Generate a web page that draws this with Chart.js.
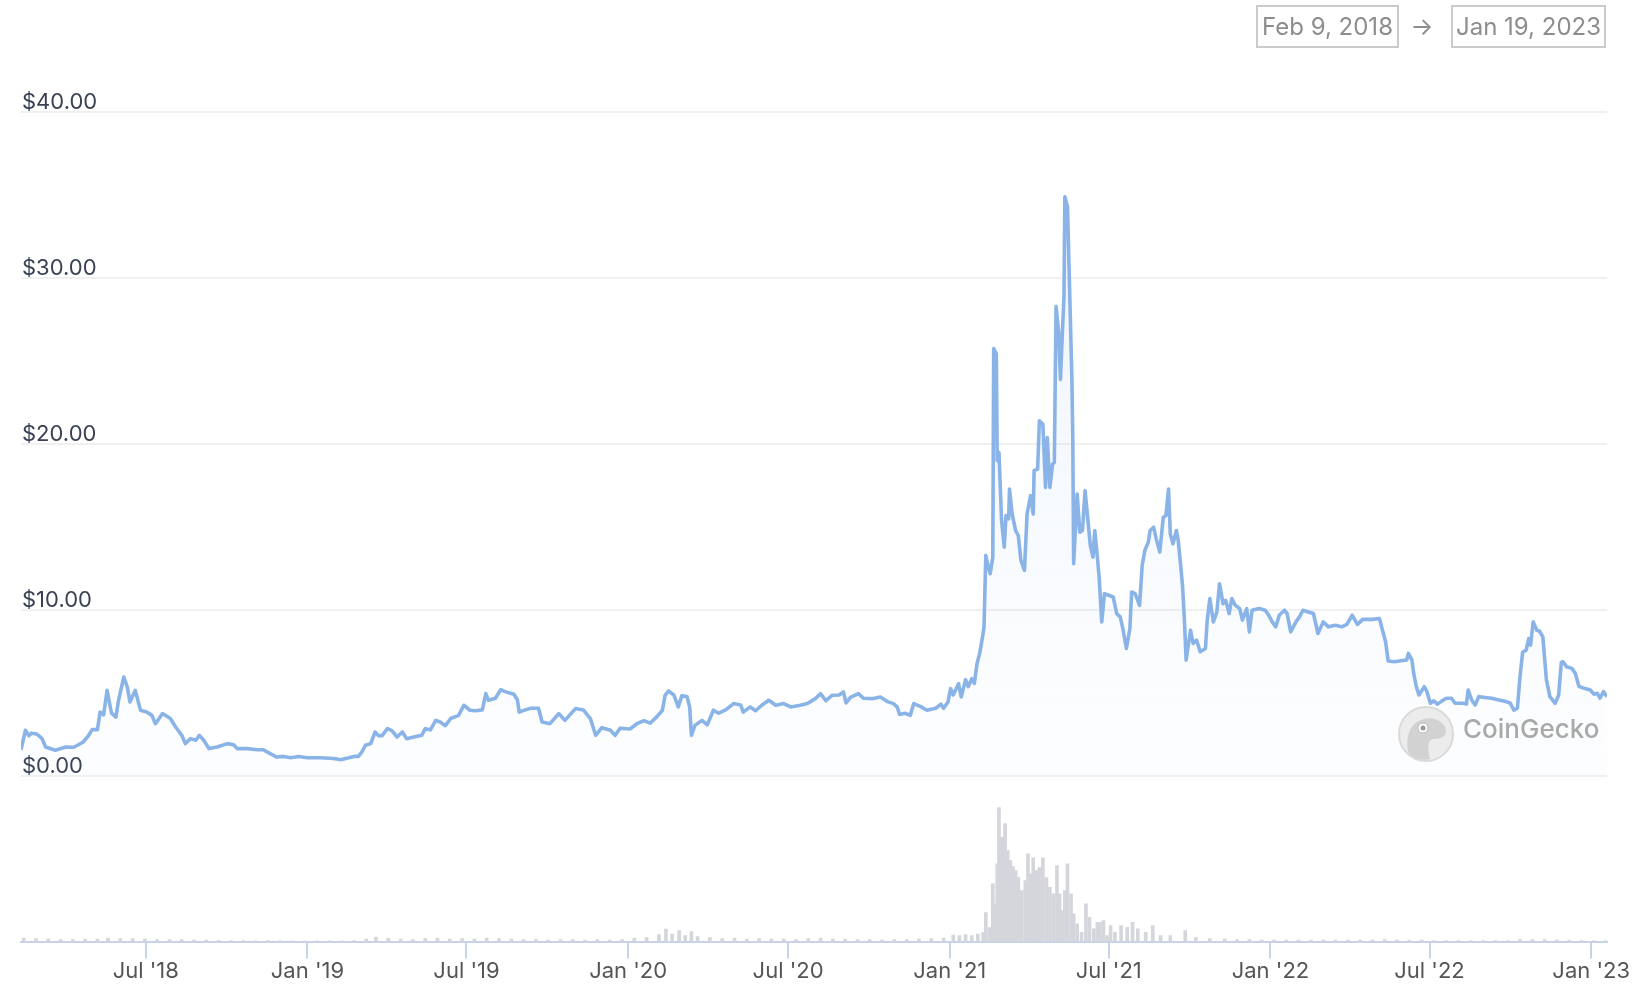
<!DOCTYPE html>
<html>
<head>
<meta charset="utf-8">
<script src="https://cdn.jsdelivr.net/npm/chart.js@4.4.0/dist/chart.umd.min.js"></script>
<style>
  html, body { margin: 0; padding: 0; background: #fff; }
  #wrap { position: relative; width: 1634px; height: 987px; overflow: hidden; }
  #chart { position: absolute; left: 0; top: 0; }
  .range {
    position: absolute; top: 5px; height: 43px; box-sizing: border-box;
    border: 2px solid #cbcbcb; color: #8d8d8d;
    font: 24px Inter, sans-serif; line-height: 39px; text-align: center;
  }
  .arrow { position: absolute; left: 1405px; top: 5px; width: 34px; height: 43px;
    display: flex; align-items: center; justify-content: center;
    color: #8d8d8d; font: 24px Inter, sans-serif; }
  .brand { position: absolute; left: 1463px; top: 713px; height: 40px; line-height: 40px;
    color: #a9a9a9; font: 500 26px Inter, sans-serif; }
  .logo { position: absolute; left: 1396px; top: 704px; }
</style>
</head>
<body>
<div id="wrap">
  <canvas id="chart" width="1634" height="987"></canvas>
  <div class="range" style="left:1256px; width:143px;">Feb 9, 2018</div>
  <div class="arrow">→</div>
  <div class="range" style="left:1451px; width:155px;">Jan 19, 2023</div>
  <svg class="logo" width="60" height="60" viewBox="0 0 60 60">
    <circle cx="30" cy="30" r="27" fill="#ececec" stroke="#dadada" stroke-width="2"/>
    <path d="M13 50 C9 36 12 19 28 15 C40 12 50 20 50 27 C50 33 44 35 37 35 C32 36 31 43 34 55 C26 57 18 55 13 50 Z" fill="#d2d2d2"/>
    <circle cx="27" cy="24" r="5" fill="#fff" stroke="#bdbdbd" stroke-width="1"/>
    <circle cx="27" cy="24" r="2.5" fill="#9a9a9a"/>
  </svg>
  <div class="brand">CoinGecko</div>
</div>
<script>
const priceDates = [
  '2018-02-09','2018-02-14','2018-02-18','2018-02-21','2018-02-27','2018-03-05','2018-03-09','2018-03-20',
  '2018-04-01','2018-04-10','2018-04-21','2018-04-27','2018-05-01','2018-05-07','2018-05-10','2018-05-14',
  '2018-05-18','2018-05-23','2018-05-28','2018-05-31','2018-06-06','2018-06-10','2018-06-13','2018-06-19',
  '2018-06-23','2018-06-25','2018-07-02','2018-07-08','2018-07-12','2018-07-20','2018-07-29','2018-08-04',
  '2018-08-11','2018-08-15','2018-08-21','2018-08-27','2018-08-31','2018-09-05','2018-09-11','2018-09-20',
  '2018-10-02','2018-10-09','2018-10-13','2018-10-24','2018-11-05','2018-11-12','2018-11-16','2018-11-27',
  '2018-12-05','2018-12-13','2018-12-22','2019-01-01','2019-01-16','2019-01-31','2019-02-08','2019-02-16',
  '2019-02-23','2019-02-28','2019-03-04','2019-03-08','2019-03-14','2019-03-19','2019-03-23','2019-03-27',
  '2019-04-02','2019-04-07','2019-04-13','2019-04-19','2019-04-24','2019-05-02','2019-05-11','2019-05-15',
  '2019-05-21','2019-05-27','2019-06-01','2019-06-07','2019-06-13','2019-06-22','2019-06-28','2019-07-05',
  '2019-07-11','2019-07-19','2019-07-23','2019-07-26','2019-08-03','2019-08-09','2019-08-14','2019-08-24',
  '2019-08-28','2019-08-30','2019-09-06','2019-09-12','2019-09-21','2019-09-25','2019-10-04','2019-10-14',
  '2019-10-21','2019-11-02','2019-11-11','2019-11-19','2019-11-25','2019-12-02','2019-12-12','2019-12-17',
  '2019-12-23','2020-01-03','2020-01-11','2020-01-19','2020-01-26','2020-02-03','2020-02-09','2020-02-12',
  '2020-02-16','2020-02-22','2020-02-27','2020-03-02','2020-03-08','2020-03-11','2020-03-13','2020-03-17',
  '2020-03-25','2020-03-31','2020-04-07','2020-04-13','2020-04-21','2020-04-30','2020-05-08','2020-05-11',
  '2020-05-19','2020-05-25','2020-06-01','2020-06-09','2020-06-17','2020-06-26','2020-07-04','2020-07-15',
  '2020-07-23','2020-08-01','2020-08-07','2020-08-13','2020-08-20','2020-08-28','2020-09-02','2020-09-05',
  '2020-09-10','2020-09-19','2020-09-25','2020-10-06','2020-10-14','2020-10-22','2020-10-29','2020-11-02',
  '2020-11-05','2020-11-11','2020-11-17','2020-11-21','2020-11-29','2020-12-06','2020-12-16','2020-12-22',
  '2020-12-25','2020-12-30','2021-01-02','2021-01-05','2021-01-11','2021-01-14','2021-01-19','2021-01-22',
  '2021-01-26','2021-01-29','2021-02-01','2021-02-04','2021-02-07','2021-02-09','2021-02-11','2021-02-13',
  '2021-02-16','2021-02-19','2021-02-20','2021-02-23','2021-02-24','2021-02-26','2021-03-01','2021-03-04',
  '2021-03-06','2021-03-09','2021-03-10','2021-03-13','2021-03-17','2021-03-20','2021-03-23','2021-03-27',
  '2021-03-30','2021-04-03','2021-04-06','2021-04-07','2021-04-11','2021-04-13','2021-04-17','2021-04-20',
  '2021-04-22','2021-04-25','2021-04-28','2021-04-30','2021-05-02','2021-05-05','2021-05-07','2021-05-09',
  '2021-05-11','2021-05-12','2021-05-15','2021-05-18','2021-05-20','2021-05-21','2021-05-22','2021-05-26',
  '2021-05-29','2021-06-01','2021-06-04','2021-06-08','2021-06-10','2021-06-13','2021-06-15','2021-06-18',
  '2021-06-20','2021-06-23','2021-06-26','2021-07-01','2021-07-06','2021-07-10','2021-07-14','2021-07-17',
  '2021-07-21','2021-07-25','2021-07-27','2021-07-31','2021-08-05','2021-08-08','2021-08-11','2021-08-15',
  '2021-08-17','2021-08-21','2021-08-24','2021-08-28','2021-09-01','2021-09-04','2021-09-07','2021-09-09',
  '2021-09-12','2021-09-16','2021-09-18','2021-09-21','2021-09-23','2021-09-25','2021-09-27','2021-10-02',
  '2021-10-05','2021-10-09','2021-10-13','2021-10-19','2021-10-21','2021-10-24','2021-10-28','2021-11-01',
  '2021-11-04','2021-11-08','2021-11-11','2021-11-15','2021-11-18','2021-11-22','2021-11-27','2021-11-30',
  '2021-12-05','2021-12-08','2021-12-11','2021-12-19','2021-12-26','2021-12-30','2022-01-03','2022-01-07',
  '2022-01-11','2022-01-17','2022-01-20','2022-01-24','2022-01-30','2022-02-03','2022-02-07','2022-02-13',
  '2022-02-19','2022-02-24','2022-03-02','2022-03-08','2022-03-16','2022-03-23','2022-03-29','2022-04-04',
  '2022-04-10','2022-04-16','2022-04-27','2022-05-05','2022-05-08','2022-05-12','2022-05-15','2022-05-22',
  '2022-05-28','2022-06-05','2022-06-07','2022-06-11','2022-06-13','2022-06-16','2022-06-19','2022-06-25',
  '2022-06-28','2022-07-02','2022-07-06','2022-07-10','2022-07-14','2022-07-20','2022-07-26','2022-07-30',
  '2022-08-08','2022-08-12','2022-08-14','2022-08-18','2022-08-22','2022-08-26','2022-09-02','2022-09-10',
  '2022-09-18','2022-09-26','2022-10-01','2022-10-05','2022-10-09','2022-10-12','2022-10-15','2022-10-19',
  '2022-10-22','2022-10-24','2022-10-27','2022-10-31','2022-11-03','2022-11-07','2022-11-09','2022-11-11',
  '2022-11-15','2022-11-21','2022-11-25','2022-11-28','2022-11-30','2022-12-04','2022-12-10','2022-12-14',
  '2022-12-18','2022-12-24','2022-12-31','2023-01-04','2023-01-08','2023-01-11','2023-01-15','2023-01-19'
];
const priceValues = [
  1.6, 2.77, 2.45, 2.6, 2.55, 2.27, 1.77, 1.57,
  1.77, 1.75, 2.07, 2.47, 2.81, 2.81, 3.87, 3.7,
  5.18, 3.8, 3.57, 4.58, 5.98, 5.38, 4.48, 5.18,
  4.38, 3.98, 3.87, 3.67, 3.17, 3.78, 3.48, 2.97,
  2.47, 1.97, 2.27, 2.17, 2.47, 2.17, 1.67, 1.77,
  1.97, 1.9, 1.67, 1.67, 1.6, 1.6, 1.47, 1.16,
  1.2, 1.12, 1.2, 1.12, 1.12, 1.07, 1.0, 1.1,
  1.2, 1.2, 1.47, 1.87, 1.97, 2.67, 2.45, 2.45,
  2.87, 2.75, 2.37, 2.67, 2.27, 2.37, 2.47, 2.87,
  2.8, 3.37, 3.27, 3.05, 3.48, 3.67, 4.28, 3.98,
  3.95, 4.0, 4.98, 4.58, 4.7, 5.22, 5.1, 4.94,
  4.6, 3.87, 4.0, 4.1, 4.1, 3.27, 3.17, 3.78,
  3.37, 4.08, 4.0, 3.48, 2.47, 2.93, 2.77, 2.47,
  2.9, 2.85, 3.17, 3.35, 3.2, 3.61, 3.98, 4.88,
  5.14, 4.9, 4.18, 4.85, 4.8, 4.18, 2.47, 3.07,
  3.37, 3.1, 3.98, 3.8, 4.0, 4.38, 4.3, 3.87,
  4.18, 3.95, 4.28, 4.58, 4.28, 4.38, 4.18, 4.28,
  4.38, 4.68, 4.98, 4.55, 4.88, 4.9, 5.08, 4.42,
  4.75, 4.98, 4.7, 4.68, 4.78, 4.5, 4.38, 4.18,
  3.73, 3.8, 3.67, 4.38, 4.2, 3.98, 4.1, 4.34,
  4.1, 4.48, 5.28, 4.9, 5.58, 4.78, 5.82, 5.4,
  5.88, 5.6, 6.78, 7.4, 8.29, 9.0, 13.31, 12.8,
  12.2, 13.2, 25.76, 25.46, 19.0, 19.5, 15.4, 13.8,
  15.7, 15.5, 17.3, 15.8, 14.8, 14.5, 13.0, 12.4,
  15.8, 16.9, 15.8, 18.4, 18.5, 21.4, 21.2, 17.4,
  20.4, 17.4, 18.8, 18.9, 28.3, 26.7, 23.9, 26.5,
  28.9, 34.9, 34.3, 28.1, 23.9, 20.5, 12.8, 17.0,
  14.7, 14.8, 17.2, 15.0, 13.9, 13.2, 14.8, 13.2,
  12.0, 9.3, 11.0, 10.9, 10.8, 9.8, 9.6, 8.9,
  7.7, 8.9, 11.1, 11.0, 10.3, 12.7, 13.6, 14.1,
  14.8, 15.0, 14.3, 13.5, 15.6, 15.7, 17.3, 14.6,
  14.0, 14.8, 14.2, 12.6, 11.4, 9.5, 7.0, 8.8,
  8.0, 8.2, 7.5, 7.7, 9.4, 10.7, 9.3, 9.9,
  11.6, 10.4, 10.6, 9.8, 10.7, 10.3, 10.1, 9.4,
  10.1, 8.7, 10.0, 10.1, 10.0, 9.7, 9.3, 9.0,
  9.7, 10.0, 9.8, 8.7, 9.3, 9.6, 10.0, 9.9,
  9.8, 8.6, 9.3, 9.0, 9.1, 9.0, 9.15, 9.7,
  9.15, 9.45, 9.45, 9.5, 8.9, 8.1, 6.95, 6.9,
  6.95, 7.0, 7.4, 7.0, 6.2, 5.4, 4.9, 5.4,
  5.1, 4.4, 4.55, 4.35, 4.5, 4.7, 4.7, 4.4,
  4.4, 4.35, 5.2, 4.6, 4.3, 4.8, 4.75, 4.7,
  4.6, 4.5, 4.4, 3.98, 4.1, 6.0, 7.47, 7.6,
  8.3, 7.9, 9.3, 8.8, 8.75, 8.4, 7.1, 5.83,
  4.8, 4.4, 4.9, 6.86, 6.9, 6.6, 6.5, 6.2,
  5.42, 5.3, 5.2, 4.95, 5.0, 4.7, 5.1, 4.8
];

// volume in $M
const volumeDates = [
  '2018-02-12','2018-02-26','2018-03-12','2018-03-26','2018-04-09','2018-04-23','2018-05-07','2018-05-19',
  '2018-06-02','2018-06-16','2018-06-30','2018-07-14','2018-07-28','2018-08-11','2018-08-25','2018-09-08',
  '2018-09-22','2018-10-06','2018-10-20','2018-11-03','2018-11-17','2018-12-01','2018-12-15','2018-12-29',
  '2019-01-12','2019-01-26','2019-02-09','2019-02-23','2019-03-09','2019-03-20','2019-04-03','2019-04-17',
  '2019-05-01','2019-05-15','2019-05-29','2019-06-12','2019-06-26','2019-07-10','2019-07-24','2019-08-07',
  '2019-08-21','2019-09-04','2019-09-18','2019-10-02','2019-10-16','2019-10-30','2019-11-13','2019-11-27',
  '2019-12-11','2019-12-25','2020-01-08','2020-01-22','2020-02-05','2020-02-13','2020-02-20','2020-02-28',
  '2020-03-06','2020-03-13','2020-03-20','2020-04-03','2020-04-17','2020-05-01','2020-05-15','2020-05-29',
  '2020-06-12','2020-06-26','2020-07-10','2020-07-24','2020-08-07','2020-08-21','2020-09-04','2020-09-18',
  '2020-10-02','2020-10-16','2020-10-30','2020-11-13','2020-11-27','2020-12-11','2020-12-25','2021-01-05',
  '2021-01-12','2021-01-19','2021-01-26','2021-02-02','2021-02-08','2021-02-11','2021-02-15','2021-02-19',
  '2021-02-22','2021-02-24','2021-02-26','2021-03-01','2021-03-03','2021-03-05','2021-03-08','2021-03-11',
  '2021-03-14','2021-03-17','2021-03-20','2021-03-24','2021-03-28','2021-03-31','2021-04-03','2021-04-06',
  '2021-04-10','2021-04-13','2021-04-17','2021-04-21','2021-04-25','2021-04-29','2021-05-03','2021-05-06',
  '2021-05-09','2021-05-12','2021-05-15','2021-05-19','2021-05-22','2021-05-26','2021-05-31','2021-06-05',
  '2021-06-09','2021-06-14','2021-06-18','2021-06-21','2021-06-25','2021-06-29','2021-07-03','2021-07-08',
  '2021-07-15','2021-07-22','2021-07-28','2021-08-03','2021-08-12','2021-08-20','2021-08-29','2021-09-09',
  '2021-09-26','2021-10-08','2021-10-24','2021-11-10','2021-11-24','2021-12-08','2021-12-22','2022-01-05',
  '2022-01-19','2022-02-02','2022-02-16','2022-03-02','2022-03-16','2022-03-30','2022-04-13','2022-04-27',
  '2022-05-11','2022-05-25','2022-06-08','2022-06-22','2022-07-06','2022-07-20','2022-08-03','2022-08-17',
  '2022-08-31','2022-09-14','2022-09-28','2022-10-12','2022-10-26','2022-11-09','2022-11-23','2022-12-07',
  '2022-12-21','2023-01-04','2023-01-18'
];
const volumeValues = [
  14, 12, 10, 8, 8, 10, 10, 14,
  12, 12, 10, 8, 8, 8, 6, 6,
  5, 4, 4, 3, 4, 3, 3, 3,
  3, 3, 3, 4, 10, 18, 14, 10,
  8, 12, 14, 10, 12, 10, 14, 12,
  10, 8, 8, 6, 8, 8, 6, 8,
  6, 8, 14, 16, 28, 50, 30, 44,
  24, 40, 20, 16, 12, 14, 10, 12,
  10, 10, 8, 12, 14, 10, 10, 8,
  8, 6, 8, 8, 10, 12, 14, 26,
  24, 28, 24, 30, 36, 116, 56, 231,
  151, 311, 535, 416, 411, 471, 364, 324,
  300, 284, 257, 204, 244, 351, 271, 335,
  284, 296, 335, 256, 217, 191, 304, 191,
  124, 204, 311, 191, 111, 71, 37, 151,
  97, 51, 77, 77, 84, 24, 64, 37,
  64, 57, 77, 51, 37, 64, 24, 24,
  44, 16, 12, 10, 8, 8, 6, 6,
  6, 6, 6, 6, 6, 6, 6, 6,
  8, 6, 6, 6, 4, 4, 4, 4,
  4, 4, 4, 8, 8, 8, 6, 6,
  4, 4, 4
];

const tickDates = ['2018-07-01','2019-01-01','2019-07-01','2020-01-01','2020-07-01',
  '2021-01-01','2021-07-01','2022-01-01','2022-07-01','2023-01-01'];
const tickLabels = ["Jul '18","Jan '19","Jul '19","Jan '20","Jul '20",
  "Jan '21","Jul '21","Jan '22","Jul '22","Jan '23"];
const priceTicks = [0, 10, 20, 30, 40];

const START = Date.UTC(2018, 1, 9);
const dayOf = s => (Date.parse(s) - START) / 864e5;

const priceData = priceDates.map((d, i) => ({ x: dayOf(d), y: priceValues[i] }));
const volumeData = volumeDates.map((d, i) => ({ x: dayOf(d), y: volumeValues[i] }));

// small marks under the date axis, at the x scale's own ticks
const tickMarks = {
  id: 'tickMarks',
  afterDraw(chart) {
    const sc = chart.scales.x;
    const c = chart.ctx;
    c.save();
    c.strokeStyle = '#c8d3e9';
    c.lineWidth = 2;
    sc.ticks.forEach(t => {
      const px = Math.round(sc.getPixelForValue(t.value));
      c.beginPath();
      c.moveTo(px, sc.top);
      c.lineTo(px, sc.top + 17);
      c.stroke();
    });
    c.restore();
  }
};

const ctx = document.getElementById('chart');
const chart = new Chart(ctx, {
  data: {
    datasets: [
      {
        type: 'line',
        label: 'Price',
        data: priceData,
        yAxisID: 'y',
        borderColor: '#8ab4e8',
        borderWidth: 3.6,
        pointRadius: 0,
        tension: 0,
        borderJoinStyle: 'round',
        fill: 'origin',
        backgroundColor: (c) => {
          const ch = c.chart;
          if (!ch.chartArea) return 'rgba(138,180,232,0.06)';
          const top = ch.scales.y.getPixelForValue(35);
          const bot = ch.scales.y.getPixelForValue(0);
          const g = ch.ctx.createLinearGradient(0, top, 0, bot);
          g.addColorStop(0, 'rgba(138,180,232,0.13)');
          g.addColorStop(1, 'rgba(138,180,232,0.02)');
          return g;
        }
      },
      {
        type: 'bar',
        label: 'Volume',
        data: volumeData,
        yAxisID: 'yv',
        backgroundColor: '#d4d6db',
        barThickness: 3,
        grouped: false
      }
    ]
  },
  options: {
    responsive: false,
    animation: false,
    layout: { padding: { left: 19, right: 27, top: 112, bottom: 2 } },
    plugins: { legend: { display: false }, tooltip: { enabled: false } },
    scales: {
      x: {
        type: 'linear',
        min: 0,
        max: dayOf('2023-01-19'),
        offset: false,
        afterBuildTicks: (scale) => { scale.ticks = tickDates.map(d => ({ value: dayOf(d) })); },
        ticks: {
          autoSkip: false,
          maxRotation: 0,
          padding: 0,
          color: '#555',
          font: { family: 'Inter', size: 22 },
          callback: (v, i) => tickLabels[i]
        },
        grid: { offset: false, drawOnChartArea: false, drawTicks: true, tickLength: 17,
          color: 'rgba(0,0,0,0)', tickColor: 'rgba(0,0,0,0)', lineWidth: 2 },
        border: { display: true, color: '#c8d3e9', width: 2 }
      },
      y: {
        type: 'linear',
        position: 'left',
        stack: 'v',
        stackWeight: 4.02,
        weight: 1,
        min: 0,
        max: 40,
        afterBuildTicks: (scale) => { scale.ticks = priceTicks.map(v => ({ value: v })); },
        ticks: {
          mirror: true,
          padding: 1,
          labelOffset: -10,
          color: '#3a4154',
          font: { family: 'Inter', size: 22 },
          callback: (v) => '$' + v.toFixed(2)
        },
        grid: { color: '#f0f0f0', lineWidth: 2, drawTicks: false },
        border: { display: false }
      },
      yv: {
        type: 'linear',
        position: 'left',
        stack: 'v',
        stackWeight: 1,
        weight: 0,
        min: 0,
        max: 660,
        ticks: { display: false },
        grid: { display: false, drawTicks: false },
        border: { display: false }
      }
    }
  },
  plugins: [tickMarks]
});
</script>
</body>
</html>
